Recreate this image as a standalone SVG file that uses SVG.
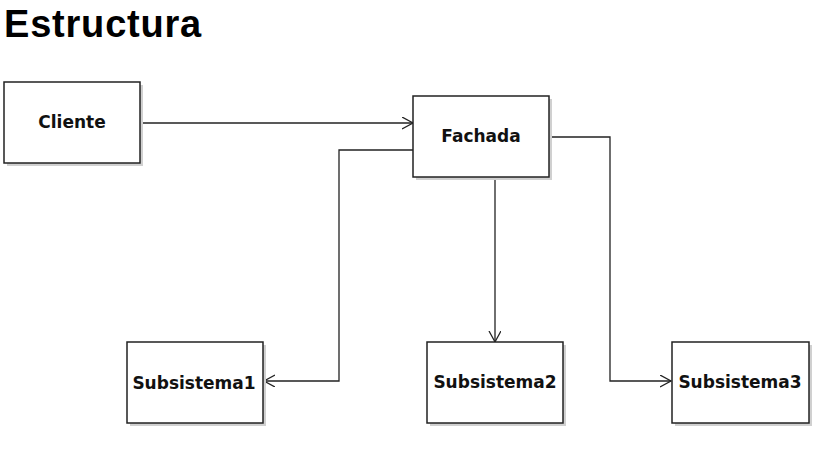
<svg xmlns="http://www.w3.org/2000/svg" width="816" height="451" viewBox="0 0 816 451">
<style>
.shadow{fill:#d0d0d0;stroke:none}
.box{fill:#fff;stroke:#222;stroke-width:1.5}
.lbl{font-family:"DejaVu Sans",sans-serif;font-weight:bold;font-size:17px;fill:#111;text-anchor:middle}
.title{font-family:"Liberation Sans",Arial,sans-serif;font-weight:bold;font-size:38px;letter-spacing:0.8px;fill:#000}
.conn{fill:none;stroke:#222;stroke-width:1.3}
</style>
<defs>
<marker id="arr" markerWidth="14" markerHeight="14" refX="11" refY="6" orient="auto" markerUnits="userSpaceOnUse">
<path d="M0,0 L11,6 L0,12" fill="none" stroke="#222" stroke-width="1.3"/>
</marker>
</defs>
<rect width="816" height="451" fill="#fff"/>
<text class="title" x="4" y="37">Estructura</text>
<g id="connectors">
<path class="conn" d="M140,123 H413" marker-end="url(#arr)"/>
<path class="conn" d="M413,150 H339 V381 H264" marker-end="url(#arr)"/>
<path class="conn" d="M495,177 V342" marker-end="url(#arr)"/>
<path class="conn" d="M549,137 H610 V381 H671" marker-end="url(#arr)"/>
</g>
<g id="cliente">
<rect class="shadow" x="7" y="85" width="136" height="81"/>
<rect class="box" x="4" y="82" width="136" height="81"/>
<text class="lbl" x="72" y="128">Cliente</text>
</g>
<g id="fachada">
<rect class="shadow" x="416" y="99" width="136" height="81"/>
<rect class="box" x="413" y="96" width="136" height="81"/>
<text class="lbl" x="481" y="142">Fachada</text>
</g>
<g id="subsistema1">
<rect class="shadow" x="130" y="345" width="136" height="81"/>
<rect class="box" x="127" y="342" width="136" height="81"/>
<text class="lbl" x="194" y="389">Subsistema1</text>
</g>
<g id="subsistema2">
<rect class="shadow" x="430" y="345" width="136" height="81"/>
<rect class="box" x="427" y="342" width="136" height="81"/>
<text class="lbl" x="495" y="388">Subsistema2</text>
</g>
<g id="subsistema3">
<rect class="shadow" x="675" y="345" width="137" height="81"/>
<rect class="box" x="672" y="342" width="137" height="81"/>
<text class="lbl" x="740" y="388">Subsistema3</text>
</g>
</svg>
